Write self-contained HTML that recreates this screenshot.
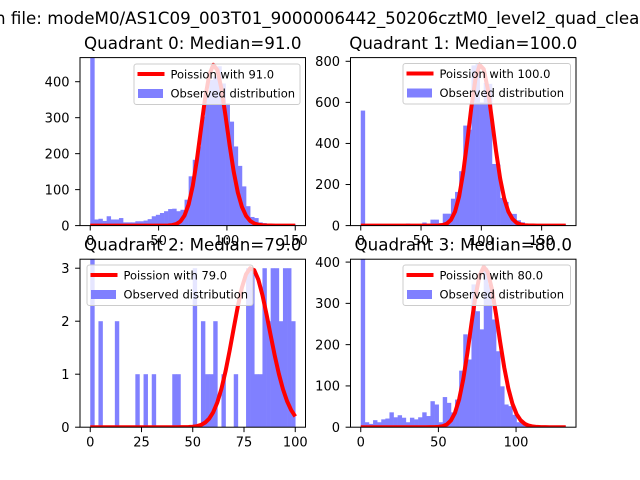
<!DOCTYPE html>
<html><head><meta charset="utf-8"><style>
html,body{margin:0;padding:0;background:#fff;}
svg{display:block;font-family:"DejaVu Sans","Liberation Sans",sans-serif;}
</style></head><body>
<svg id="fig" width="640" height="480" viewBox="0 0 640 480" xmlns="http://www.w3.org/2000/svg">
<rect x="0" y="0" width="640" height="480" fill="#fff"/>
<text x="-5" y="24" font-size="16.7" fill="#000">n file: modeM0/AS1C09_003T01_9000006442_50206cztM0_level2_quad_clean</text>
</svg>
<script>
// ---- data ----
const quadTitles = ["Quadrant 0: Median=91.0","Quadrant 1: Median=100.0","Quadrant 2: Median=79.0","Quadrant 3: Median=80.0"];
const legendLabels = ["Poission with 91.0","Poission with 100.0","Poission with 79.0","Poission with 80.0"];
const poissonLambda = [91, 100, 79, 80];
const poissonPeak = [447, 785, 3.0, 388];
const histMax = [150, 170, 100, 132];
const counts0 = [600,17,19,13,26,17,17,21,9,9,9,12,12,14,18,26,30,35,40,46,47,40,44,72,137,183,220,303,358,405,414,443,395,340,289,220,166,109,54,24,21,9,7,5,5,4,4,4,4,4];
const counts1 = [560,5,5,5,8,5,5,5,5,5,5,10,5,5,5,15,10,29,29,12,58,58,131,164,265,487,467,780,790,600,695,690,300,297,135,115,57,57,26,16,8,5,5,5,5,5,5,5,5,5];
const counts2 = [4,0,2,0,0,0,2,0,0,0,0,1,0,1,0,1,0,0,0,0,1,1,0,0,0,3,0,2,1,1,2,0,1,0,0,1,0,0,3,3,1,1,3,2,3,3,2,3,3,2];
const counts3 = [500,12,8,17,12,19,21,36,24,29,23,12,23,19,24,36,27,63,55,12,73,59,36,67,137,225,164,346,281,237,386,346,261,184,99,55,51,30,12,9,6,2,2,2,2,2,2,2,2,2];
const xTicks = [[0,50,100,150],[0,50,100,150],[0,25,50,75,100],[0,50,100]];
const yTicks = [[0,100,200,300,400],[0,200,400,600,800],[0,1,2,3],[0,100,200,300,400]];
const xLims = [[-7.5,157.5],[-8.5,178.5],[-5,105],[-6.6,138.6]];
const yLims = [[0,467],[0,818],[0,3.17],[0,407]];
const allCounts = [counts0, counts1, counts2, counts3];

// ---- layout ----
const NS = "http://www.w3.org/2000/svg";
const svg = document.getElementById('fig');
const axBoxes = [[80,57.6,225.5,168],[350.5,57.6,225.5,168],[80,259.2,225.5,168],[350.5,259.2,225.5,168]];
const legendBoxes = [[134,64],[403,63.5],[87,265],[403,265]];
const legendWidths = [166,167.5,166,167.5];
function mk(tag, attrs, parent){ const e=document.createElementNS(NS,tag); for(const k in attrs) e.setAttribute(k,attrs[k]); (parent||svg).appendChild(e); return e; }
function lnGamma(z){ // Lanczos
  const g=7, c=[0.99999999999980993,676.5203681218851,-1259.1392167224028,771.32342877765313,-176.61502916214059,12.507343278686905,-0.13857109526572012,9.9843695780195716e-6,1.5056327351493116e-7];
  z-=1; let x=c[0]; for(let i=1;i<g+2;i++) x+=c[i]/(z+i);
  const t=z+g+0.5; return 0.5*Math.log(2*Math.PI)+(z+0.5)*Math.log(t)-t+Math.log(x);
}
function pmf(k,l){ return Math.exp(k*Math.log(l)-l-lnGamma(k+1)); }

for(let q=0;q<4;q++){
  const [ax,ay,aw,ah]=axBoxes[q];
  const xs=v=>ax+(v-xLims[q][0])/(xLims[q][1]-xLims[q][0])*aw;
  const ys=v=>ay+ah-(v-yLims[q][0])/(yLims[q][1]-yLims[q][0])*ah;
  const g=mk('g',{});
  
  
  const cp=mk('clipPath',{id:'clip'+q},g);
  mk('rect',{x:ax,y:ay,width:aw,height:ah},cp);
  const bars=mk('g',{'clip-path':'url(#clip'+q+')'},g);
  
  
  const counts=allCounts[q]; const bw=histMax[q]/counts.length;
  counts.forEach((c,i)=>{
    if(c<=0) return;
    const x0=xs(i*bw), x1=xs((i+1)*bw);
    const r=mk('rect',{x:x0,y:ys(c),width:x1-x0+0.3,height:ys(0)-ys(c),fill:'#8080ff'},bars);
    
    
  });
  // curve sampled at bin edges
  const scale=poissonPeak[q]/pmf(poissonLambda[q],poissonLambda[q]);
  let d='';
  for(let i=0;i<=counts.length;i++){ const k=i*bw; d+=(i?'L':'M')+xs(k).toFixed(2)+','+ys(scale*pmf(k,poissonLambda[q])).toFixed(2); }
  const cur=mk('path',{d:d,fill:'none',stroke:'#ff0000','stroke-width':4,'stroke-linejoin':'round'},bars);
  
  
  // spines
  const sp=mk('rect',{x:ax,y:ay,width:aw,height:ah,fill:'none',stroke:'#000','stroke-width':1},g);
  
  
  // ticks
  xTicks[q].forEach(t=>{
    const x=xs(t);
    mk('line',{x1:x,y1:ay+ah,x2:x,y2:ay+ah+4.9,stroke:'#000','stroke-width':1},g);
    const tx=mk('text',{x:x,y:ay+ah+19.5,'font-size':13,'text-anchor':'middle'},g);
    tx.textContent=t;
    
    
  });
  yTicks[q].forEach(t=>{
    const y=ys(t);
    mk('line',{x1:ax,y1:y,x2:ax-4.9,y2:y,stroke:'#000','stroke-width':1},g);
    const tx=mk('text',{x:ax-10.5,y:y+4.7,'font-size':13,'text-anchor':'end'},g);
    tx.textContent=t;
    
    
  });
  // title
  const tt=mk('text',{x:ax+aw/2,y:ay-8.6,'font-size':16.7,'text-anchor':'middle'},g);
  tt.textContent=quadTitles[q];
  
  
  // legend
  const [lx,ly]=legendBoxes[q]; const lw=legendWidths[q];
  const lg=mk('g',{},g);
  
  
  mk('rect',{x:lx,y:ly,width:lw,height:40.5,rx:2.5,fill:'rgba(255,255,255,0.8)',stroke:'#cccccc','stroke-width':1},lg);
  mk('line',{x1:lx+3.5,y1:ly+10,x2:lx+30.5,y2:ly+10,stroke:'#ff0000','stroke-width':4},lg);
  mk('rect',{x:lx+4,y:ly+25,width:25,height:9,fill:'#8080ff'},lg);
  const t1=mk('text',{x:lx+36.5,y:ly+14.3,'font-size':11.5},lg);
  t1.textContent=legendLabels[q];
  
  
  const t2=mk('text',{x:lx+36.5,y:ly+33.3,'font-size':11.5},lg);
  t2.textContent='Observed distribution';
  
  
}
</script>
</body></html>
